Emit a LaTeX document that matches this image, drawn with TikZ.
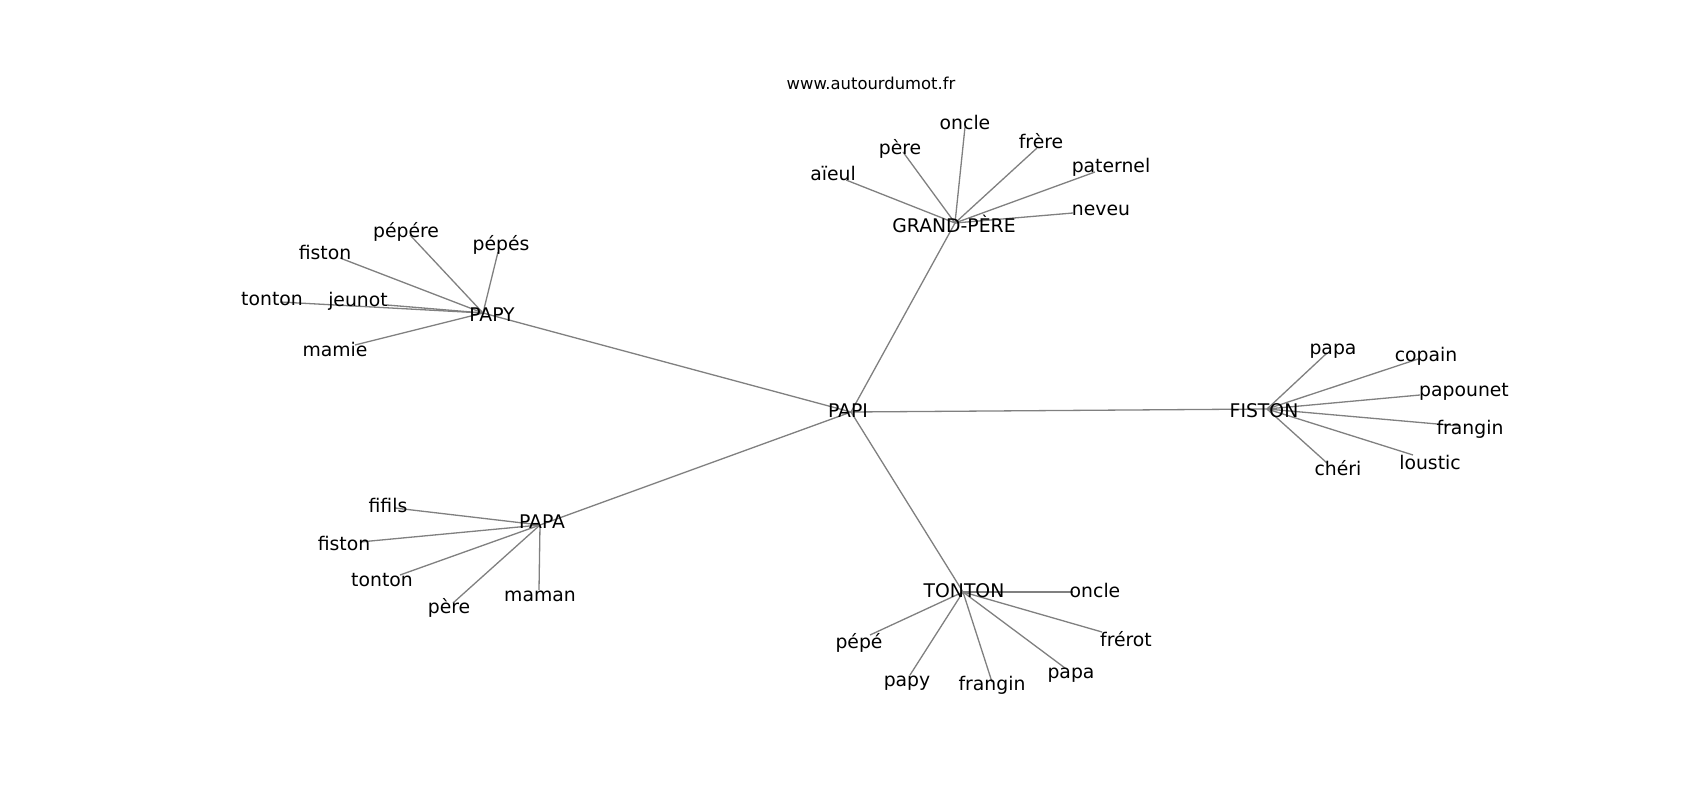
\documentclass[tikz,border=0pt]{standalone}
\usepackage{fontspec}
\setmainfont{DejaVu Sans}
\definecolor{edgegray}{RGB}{128,128,128}
\begin{document}
\begin{tikzpicture}[x=1pt,y=-1pt,
  lbl/.style={anchor=base,inner sep=0pt,font=\fontsize{18.8}{22}\selectfont,text=black},
  ttl/.style={anchor=base,inner sep=0pt,font=\fontsize{16.4}{19}\selectfont,text=black},
  edge/.style={draw=edgegray,line width=1.3pt}]
\useasboundingbox[fill=white] (0,0) rectangle (1700,800);
% node positions
\coordinate (PAPI) at (851,412);
\coordinate (GP) at (955,223);
\coordinate (gAieul) at (846,180);
\coordinate (gPere) at (903,152);
\coordinate (gOncle) at (965,127);
\coordinate (gFrere) at (1037,148);
\coordinate (gPaternel) at (1095,172);
\coordinate (gNeveu) at (1073,213);
\coordinate (PAPY) at (483,313);
\coordinate (yPepere) at (410,235);
\coordinate (yPepes) at (498,252);
\coordinate (yFiston) at (340,258);
\coordinate (yTonton) at (280,302);
\coordinate (yJeunot) at (387,305);
\coordinate (yMamie) at (355,345);
\coordinate (FISTON) at (1267,409);
\coordinate (fPapa) at (1327,353);
\coordinate (fCopain) at (1418,359);
\coordinate (fPapounet) at (1420,395);
\coordinate (fFrangin) at (1460,426);
\coordinate (fLoustic) at (1413,455);
\coordinate (fCheri) at (1327,463);
\coordinate (PAPA) at (540,525);
\coordinate (aFifils) at (395,508);
\coordinate (aFiston) at (360,542);
\coordinate (aTonton) at (400,575);
\coordinate (aPere) at (453,603);
\coordinate (aMaman) at (539,590);
\coordinate (TONTON) at (963,592);
\coordinate (tOncle) at (1073,592);
\coordinate (tPepe) at (870,635);
\coordinate (tPapy) at (910,675);
\coordinate (tFrangin) at (992,682);
\coordinate (tPapa) at (1065,668);
\coordinate (tFrerot) at (1102,632);
% edges
\foreach \a/\b in {PAPI/GP,PAPI/PAPY,PAPI/FISTON,PAPI/PAPA,PAPI/TONTON,
  GP/gAieul,GP/gPere,GP/gOncle,GP/gFrere,GP/gPaternel,GP/gNeveu,
  PAPY/yPepere,PAPY/yPepes,PAPY/yFiston,PAPY/yTonton,PAPY/yJeunot,PAPY/yMamie,
  FISTON/fPapa,FISTON/fCopain,FISTON/fPapounet,FISTON/fFrangin,FISTON/fLoustic,FISTON/fCheri,
  PAPA/aFifils,PAPA/aFiston,PAPA/aTonton,PAPA/aPere,PAPA/aMaman,
  TONTON/tOncle,TONTON/tPepe,TONTON/tPapy,TONTON/tFrangin,TONTON/tPapa,TONTON/tFrerot}
  \draw[edge] (\a) -- (\b);
% labels
\node[ttl] (title) at (871,89) {www.autourdumot.fr};
\node[lbl] (lPAPI) at (848,417) {PAPI};
\node[lbl] (lGP) at (954,232) {GRAND-PÈRE};
\node[lbl] (lgAieul) at (833,180) {aïeul};
\node[lbl] (lgPere) at (900,154) {père};
\node[lbl] (lgOncle) at (965,129) {oncle};
\node[lbl] (lgFrere) at (1041,148) {frère};
\node[lbl] (lgPaternel) at (1111,172) {paternel};
\node[lbl] (lgNeveu) at (1101,215) {neveu};
\node[lbl] (lPAPY) at (492,321) {PAPY};
\node[lbl] (lyPepere) at (406,237) {pépére};
\node[lbl] (lyPepes) at (501,250) {pépés};
\node[lbl] (lyFiston) at (325,259) {fiston};
\node[lbl] (lyTonton) at (272,305) {tonton};
\node[lbl] (lyJeunot) at (358,306) {jeunot};
\node[lbl] (lyMamie) at (335,356) {mamie};
\node[lbl] (lFISTON) at (1264,417) {FISTON};
\node[lbl] (lfPapa) at (1333,354) {papa};
\node[lbl] (lfCopain) at (1426,361) {copain};
\node[lbl] (lfPapounet) at (1464,396) {papounet};
\node[lbl] (lfFrangin) at (1470,434) {frangin};
\node[lbl] (lfLoustic) at (1430,469) {loustic};
\node[lbl] (lfCheri) at (1338,475) {chéri};
\node[lbl] (lPAPA) at (542,528) {PAPA};
\node[lbl] (laFifils) at (388,512) {fifils};
\node[lbl] (laFiston) at (344,550) {fiston};
\node[lbl] (laTonton) at (382,586) {tonton};
\node[lbl] (laPere) at (449,613) {père};
\node[lbl] (laMaman) at (540,601) {maman};
\node[lbl] (lTONTON) at (964,597) {TONTON};
\node[lbl] (ltOncle) at (1095,597) {oncle};
\node[lbl] (ltPepe) at (859,648) {pépé};
\node[lbl] (ltPapy) at (907,686) {papy};
\node[lbl] (ltFrangin) at (992,690) {frangin};
\node[lbl] (ltPapa) at (1071,678) {papa};
\node[lbl] (ltFrerot) at (1126,646) {frérot};
\end{tikzpicture}
\end{document}
